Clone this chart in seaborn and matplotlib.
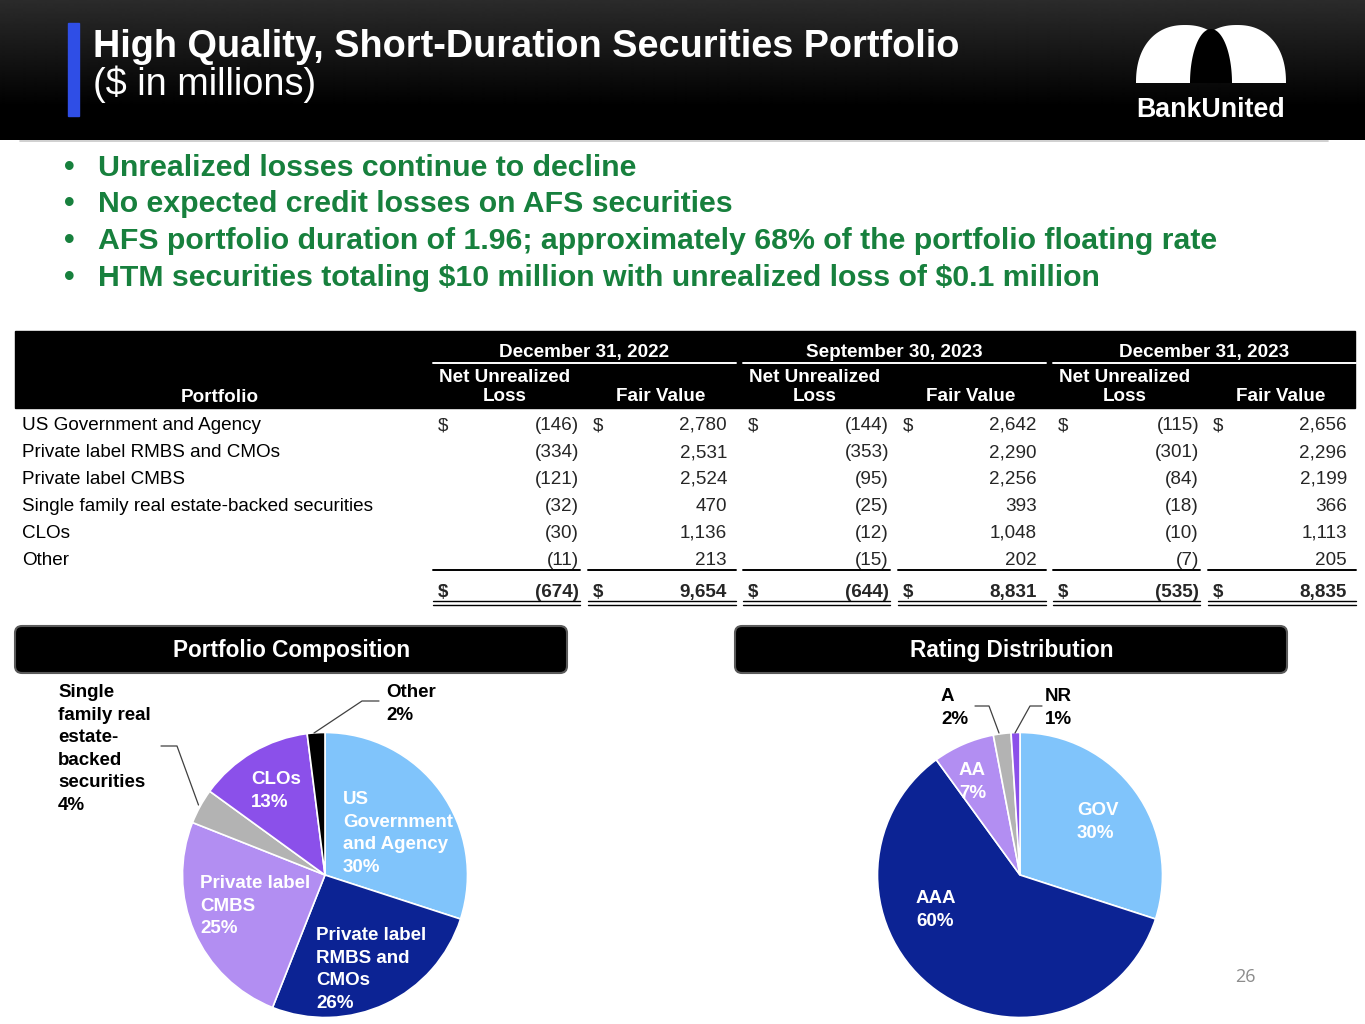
import numpy as np
import matplotlib
matplotlib.use("Agg")
import matplotlib.pyplot as plt
import seaborn as sns
from matplotlib.patches import Rectangle, FancyBboxPatch, Polygon

# data -----------------------------------------------------------------
title = "High Quality, Short-Duration Securities Portfolio"
subtitle = "($ in millions)"
bullets = [
    "Unrealized losses continue to decline",
    "No expected credit losses on AFS securities",
    "AFS portfolio duration of 1.96; approximately 68% of the portfolio floating rate",
    "HTM securities totaling $10 million with unrealized loss of $0.1 million",
]

periods = ["December 31, 2022", "September 30, 2023", "December 31, 2023"]
portfolio_rows = [
    "US Government and Agency",
    "Private label RMBS and CMOs",
    "Private label CMBS",
    "Single family real estate-backed securities",
    "CLOs",
    "Other",
]
loss_dec22 = [-146, -334, -121, -32, -30, -11]
fv_dec22 = [2780, 2531, 2524, 470, 1136, 213]
loss_sep23 = [-144, -353, -95, -25, -12, -15]
fv_sep23 = [2642, 2290, 2256, 393, 1048, 202]
loss_dec23 = [-115, -301, -84, -18, -10, -7]
fv_dec23 = [2656, 2296, 2199, 366, 1113, 205]

comp_labels = ["US\nGovernment\nand Agency", "Private label\nRMBS and\nCMOs",
               "Private label\nCMBS", "Single\nfamily real\nestate-\nbacked\nsecurities",
               "CLOs", "Other"]
comp_pct = [30, 26, 25, 4, 13, 2]

rating_labels = ["GOV", "AAA", "AA", "A", "NR"]
rating_pct = [30, 60, 7, 2, 1]

# style ----------------------------------------------------------------
sns.set_theme(style="white")
plt.rcParams['font.family'] = ['Liberation Sans', 'DejaVu Sans']

W, H = 1365, 1024
GREEN = "#17803d"
comp_colors = sns.color_palette(["#80c4fb", "#0c2394", "#b28ef2", "#b3b3b3", "#8b50ea", "#000000"])
rating_colors = sns.color_palette(["#80c4fb", "#0c2394", "#b28ef2", "#b3b3b3", "#8b50ea"])

fig = plt.figure(figsize=(W / 100, H / 100), dpi=100)

# pies -------------------------------------------------------------------
R = 142.5


def pie_axes(cx, cy):
    return fig.add_axes([(cx - R) / W, (H - cy - R) / H, 2 * R / W, 2 * R / H])


pa = pie_axes(325, 875)
pa.pie(comp_pct, colors=comp_colors, startangle=90, counterclock=False,
       wedgeprops=dict(edgecolor="white", linewidth=1.2))
pa.set_xlim(-1, 1)
pa.set_ylim(-1, 1)
pa.axis("off")

pb = pie_axes(1020, 875)
pb.pie(rating_pct, colors=rating_colors, startangle=90, counterclock=False,
       wedgeprops=dict(edgecolor="white", linewidth=1.2))
pb.set_xlim(-1, 1)
pb.set_ylim(-1, 1)
pb.axis("off")

# overlay in pixel units, drawn above the pies
ax = fig.add_axes([0, 0, 1, 1])
ax.set_zorder(5)


def txt(x, y, s, **kw):
    kw.setdefault("va", "baseline")
    kw.setdefault("fontsize", 13.6)
    return ax.text(x, y, s, parse_math=False, **kw)


# header band with soft gradient
grad = np.clip(np.linspace(0.17, -0.05, 140), 0, 1)
ax.imshow(np.repeat(grad[:, None], 2, axis=1), cmap="gray", vmin=0, vmax=1,
          extent=[0, W, 140, 0], aspect="auto", interpolation="bilinear")
ax.plot([20, 1328], [141, 141], color="#c8c8c8", lw=1.2)
ax.add_patch(Rectangle((68, 23), 11, 93, color="#2f4ee6"))
txt(93, 57, title, color="white", fontsize=27.3, fontweight="bold")
txt(93, 95, subtitle, color="white", fontsize=27.3)

# logo
t = np.linspace(0, np.pi, 80)
for cx, a, h, c, p in [(1185, 49, 58, "white", 2.25), (1237, 49, 58, "white", 2.25),
                       (1211, 21, 54, "black", 2.0)]:
    ct, st = np.cos(t), np.sin(t)
    xs = cx + a * np.sign(ct) * np.abs(ct) ** (2 / p)
    ys = 83 - h * np.abs(st) ** (2 / p)
    ax.add_patch(Polygon(np.column_stack([xs, ys]), closed=True, color=c, lw=0))
txt(1211, 117, "BankUnited", color="white", fontsize=19.3, fontweight="bold", ha="center")

# bullets
for i, b in enumerate(bullets):
    y = 176 + i * 36.5
    txt(64, y, "\u2022", color=GREEN, fontsize=21.8, fontweight="bold")
    txt(98, y, b, color=GREEN, fontsize=21.8, fontweight="bold")

# table ----------------------------------------------------------------
ax.add_patch(Rectangle((15, 331), 1340, 77, color="black"))
txt(220, 402, "Portfolio", color="white", fontweight="bold", ha="center")

groups = [(loss_dec22, fv_dec22), (loss_sep23, fv_sep23), (loss_dec23, fv_dec23)]
row_y = [430 + 27 * i for i in range(len(portfolio_rows))]
total_y = 597
for name, y in zip(portfolio_rows, row_y):
    txt(22, y, name, color="black")

for g, (period, (losses, fvs)) in enumerate(zip(periods, groups)):
    dx = 310 * g
    ax.plot([433 + dx, 736 + dx], [363, 363], color="white", lw=1.4)
    txt(584.5 + dx, 357, period, color="white", fontweight="bold", ha="center")
    txt(505 + dx, 382, "Net Unrealized", color="white", fontweight="bold", ha="center")
    txt(505 + dx, 401, "Loss", color="white", fontweight="bold", ha="center")
    txt(661 + dx, 401, "Fair Value", color="white", fontweight="bold", ha="center")

    for i, (lv, fv) in enumerate(zip(losses, fvs)):
        y = row_y[i]
        if i == 0:
            txt(438 + dx, y, "$")
            txt(593 + dx, y, "$")
        txt(579 + dx, y, f"({abs(lv):,})", ha="right")
        txt(727 + dx, y, f"{fv:,}", ha="right")

    txt(438 + dx, total_y, "$", fontweight="bold")
    txt(593 + dx, total_y, "$", fontweight="bold")
    txt(579 + dx, total_y, f"({abs(sum(losses)):,})", fontweight="bold", ha="right")
    txt(727 + dx, total_y, f"{sum(fvs):,}", fontweight="bold", ha="right")

    for x0, x1 in [(433, 580), (588, 736)]:
        ax.plot([x0 + dx, x1 + dx], [570, 570], color="black", lw=1.4)
        ax.plot([x0 + dx, x1 + dx], [601, 601], color="black", lw=1.0)
        ax.plot([x0 + dx, x1 + dx], [605, 605], color="black", lw=1.0)

# section headers --------------------------------------------------------
for x0, label in [(15, "Portfolio Composition"), (735, "Rating Distribution")]:
    ax.add_patch(FancyBboxPatch((x0, 626), 552, 47, boxstyle="round,pad=0,rounding_size=7",
                                facecolor="black", edgecolor="#5a5a5a", lw=1.5))
    txt(x0 + 277, 657, label, color="white", fontsize=16.3, fontweight="bold", ha="center")


def stack(x, y, text, color, step=22.6):
    for k, line in enumerate(text.split("\n")):
        txt(x, y + k * step, line, color=color, fontsize=13.5, fontweight="bold")


# pie labels and leader lines
comp_pos = [(343, 804, "white"), (316, 940, "white"), (200, 888, "white"),
            (58, 697, "black"), (251, 784, "white"), (386, 697, "black")]
for lab, pct, (x, y, c) in zip(comp_labels, comp_pct, comp_pos):
    stack(x, y, f"{lab}\n{pct}%", c)
ax.plot([161, 177, 198.5], [746, 746, 805], color="#404040", lw=0.9)
ax.plot([379, 362, 314], [701, 701, 733], color="#404040", lw=0.9)

rating_pos = [(1077, 815, "white"), (916, 903, "white"), (959, 775, "white"),
              (941, 701, "black"), (1045, 701, "black")]
for lab, pct, (x, y, c) in zip(rating_labels, rating_pct, rating_pos):
    stack(x, y, f"{lab}\n{pct}%", c)
ax.plot([975, 989, 999], [706, 706, 733], color="#404040", lw=0.9)
ax.plot([1042, 1030, 1015], [706, 706, 733], color="#404040", lw=0.9)

txt(1245, 982, "26", color="#8c8c8c", fontsize=13, family=["Open Sans", "DejaVu Sans"],
    ha="center")

ax.set_xlim(0, W)
ax.set_ylim(H, 0)
ax.axis("off")

fig.savefig("out.png", dpi=100, facecolor="white")
